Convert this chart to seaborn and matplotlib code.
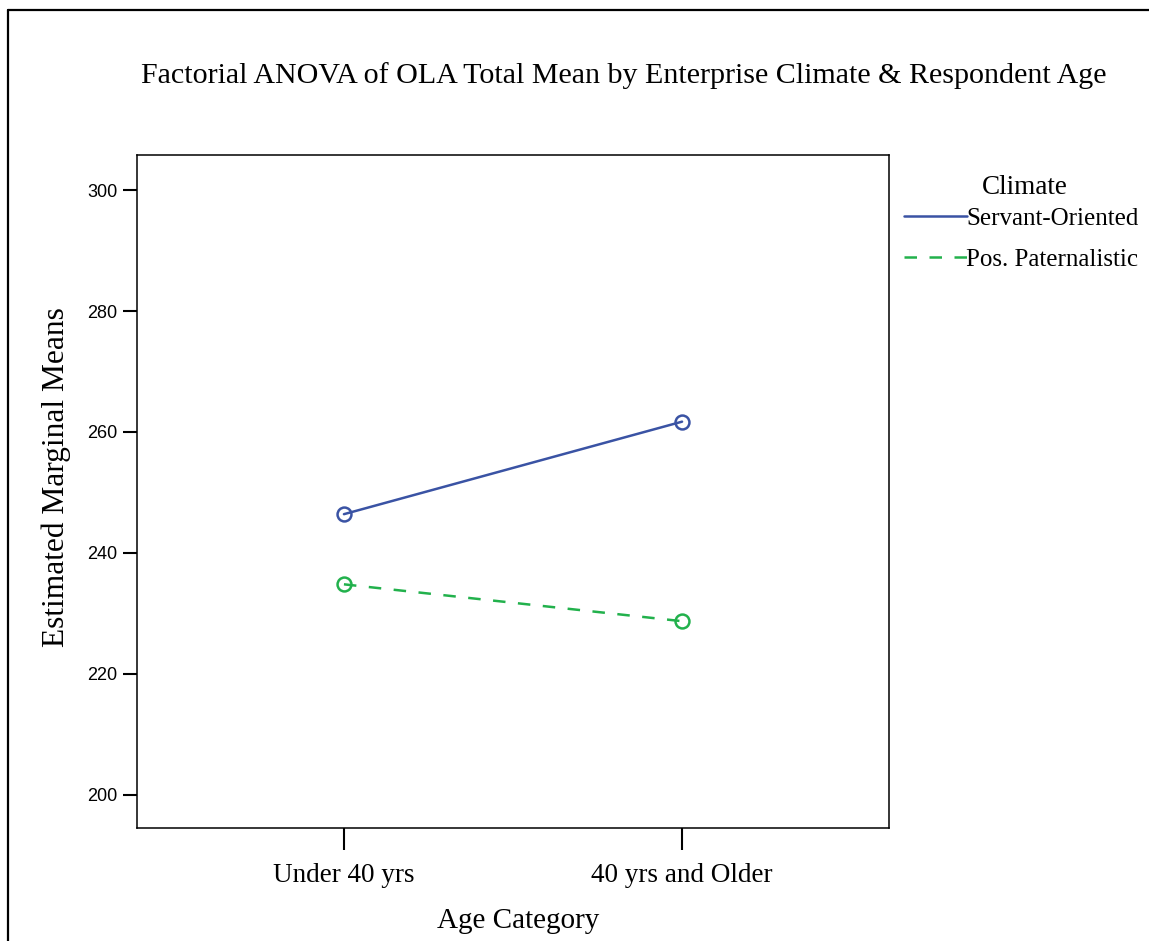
import matplotlib
matplotlib.use("Agg")
import matplotlib.pyplot as plt
from matplotlib.lines import Line2D
import seaborn as sns
import pandas as pd

# Data
age_categories = ["Under 40 yrs", "40 yrs and Older"]
climates = ["Servant-Oriented", "Pos. Paternalistic"]
servant_means = [246.4, 261.7]
paternal_means = [234.8, 228.7]
y_ticks = [200, 220, 240, 260, 280, 300]

df = pd.DataFrame({
    "Age Category": age_categories * 2,
    "Climate": [climates[0]] * 2 + [climates[1]] * 2,
    "Mean": servant_means + paternal_means,
})

sns.set_style("white")
plt.rcParams["font.family"] = ["Liberation Serif", "DejaVu Serif"]
for k in ["text.color", "axes.labelcolor", "xtick.color", "ytick.color", "axes.edgecolor"]:
    plt.rcParams[k] = "black"

colors = {"Servant-Oriented": "#3A53A4", "Pos. Paternalistic": "#22B14C"}
dashes = {"Servant-Oriented": "", "Pos. Paternalistic": (5, 5)}

fig = plt.figure(figsize=(11.49, 9.41), dpi=100)
ax = fig.add_axes([137 / 1149, 1 - 828 / 941, (889 - 137) / 1149, (828 - 155) / 941])

sns.lineplot(data=df, x="Age Category", y="Mean", hue="Climate", style="Climate",
             palette=colors, dashes=dashes, markers={c: "o" for c in climates},
             hue_order=climates, style_order=climates, sort=False,
             linewidth=1.8, markersize=10, ax=ax, legend=False)
for ln in ax.lines:
    ln.set_markerfacecolor("none")
    ln.set_markeredgecolor(ln.get_color())
    ln.set_markeredgewidth(1.8)

ax.set_xlim(-0.612, 1.612)
ax.set_ylim(194.5, 305.8)
ax.set_yticks(y_ticks)
ax.set_yticklabels([str(t) for t in y_ticks], fontfamily="Liberation Sans", fontsize=13)
ax.set_xticks([0, 1])
ax.set_xticklabels(age_categories, fontsize=19.5)
ax.tick_params(axis="y", direction="out", length=10, width=1.5, pad=4, left=True, colors="black")
ax.tick_params(axis="x", direction="out", length=16, width=1.5, pad=9, bottom=True, colors="black")
for s in ax.spines.values():
    s.set_linewidth(1.1)
    s.set_color("black")
    s.set_visible(True)

ax.set_xlabel("Age Category", fontsize=21)
ax.xaxis.set_label_coords((518.5 - 137) / 752, -(908 - 828) / 673)
ax.set_ylabel("Estimated Marginal Means", fontsize=22.7)
ax.yaxis.set_label_coords((71 - 137) / 752, 1 - (477.5 - 155) / 673)

fig.text(623.5 / 1149, 1 - 83 / 941, "Factorial ANOVA of OLA Total Mean by Enterprise Climate & Respondent Age",
         ha="center", va="baseline", fontsize=21.6)

# legend
fig.text(1025 / 1149, 1 - 188 / 941, "Climate", ha="center", va="center", fontsize=19.5)
h1 = Line2D([0], [0], color=colors[climates[0]], linewidth=1.8, linestyle="-")
h2 = Line2D([0], [0], color=colors[climates[1]], linewidth=1.8, linestyle=(0, dashes[climates[1]]))
leg = fig.legend([h1, h2], climates, loc="center left",
                 bbox_to_anchor=(904 / 1149, 1 - 239 / 941), frameon=False,
                 fontsize=18, handlelength=2.5, handletextpad=0.0,
                 labelspacing=0.72, borderaxespad=0, borderpad=0)

# figure frame (left and top)
fig.add_artist(Line2D([8 / 1149, 8 / 1149], [0, 1 - 10 / 941], color="black", linewidth=1.6,
                      transform=fig.transFigure))
fig.add_artist(Line2D([8 / 1149, 1], [1 - 10 / 941, 1 - 10 / 941], color="black", linewidth=1.6,
                      transform=fig.transFigure))

fig.savefig("out.png", dpi=100, facecolor="white")
